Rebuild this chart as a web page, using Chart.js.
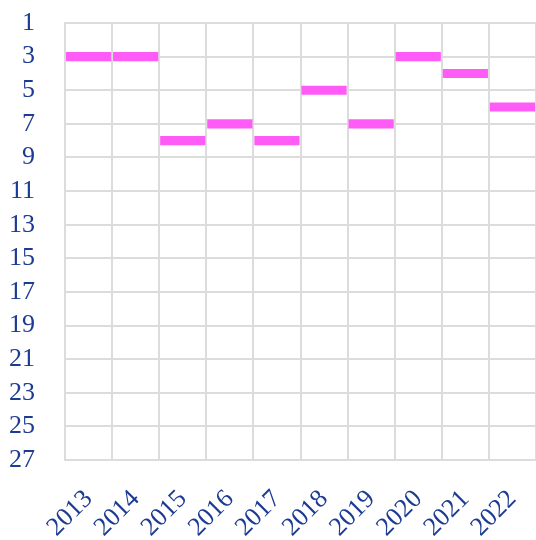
<!DOCTYPE html>
<html>
<head>
<meta charset="utf-8">
<script src="https://cdn.jsdelivr.net/npm/chart.js@4"></script>
<style>
  html, body { margin: 0; padding: 0; background: #fff; overflow: hidden; }
  #wrap { width: 536px; height: 540px; }
</style>
</head>
<body>
<div id="wrap"><canvas id="chart"></canvas></div>
<script>
  const years = ['2013', '2014', '2015', '2016', '2017', '2018', '2019', '2020', '2021', '2022'];
  const ranks = [3, 3, 8, 7, 8, 5, 7, 3, 4, 6];
  const rankTicks = [1, 3, 5, 7, 9, 11, 13, 15, 17, 19, 21, 23, 25, 27];

  const half = 0.27; // bar thickness in rank units, half each side
  const navy = '#1c3b92';
  const gridCol = '#dcdcdc';
  const serif = { family: 'Liberation Serif', size: 26 };

  new Chart(document.getElementById('chart'), {
    type: 'bar',
    data: {
      labels: years,
      datasets: [{
        data: ranks.map(r => [r - half, r + half]),
        backgroundColor: '#ff5cf7',
        borderWidth: 0,
        barPercentage: 1,
        categoryPercentage: 0.96
      }]
    },
    options: {
      responsive: true,
      maintainAspectRatio: false,
      animation: false,
      layout: { padding: { left: 0, top: 0, right: -3, bottom: 0 } },
      plugins: { legend: { display: false }, tooltip: { enabled: false } },
      scales: {
        x: {
          grid: { color: gridCol, lineWidth: 2, offset: true, drawTicks: false },
          border: { color: gridCol, width: 2 },
          ticks: { color: navy, font: serif, autoSkip: false, minRotation: 45, maxRotation: 45, padding: 24 },
          afterFit: s => { s.height = 80; s.paddingLeft = 0; s.paddingRight = 0; }
        },
        y: {
          reverse: true,
          min: 1, max: 27,
          afterBuildTicks: axis => { axis.ticks = rankTicks.map(v => ({ value: v })); },
          grid: { color: gridCol, lineWidth: 2, drawTicks: false },
          border: { color: gridCol, width: 2 },
          ticks: { color: navy, font: serif, autoSkip: false, padding: 30 },
          afterFit: s => { s.width = 65; s.paddingTop = 23; s.paddingBottom = 0; }
        }
      }
    }
  });
</script>
</body>
</html>
